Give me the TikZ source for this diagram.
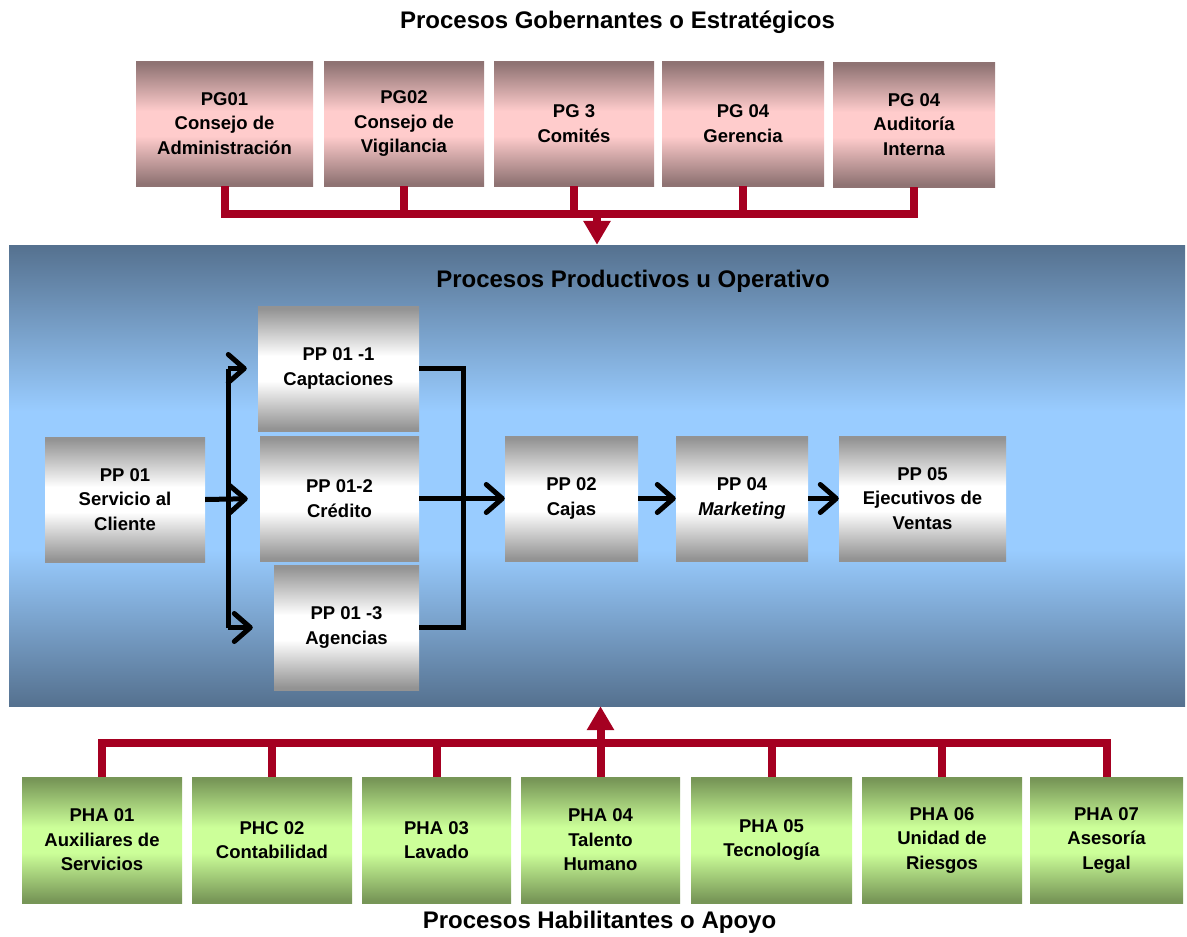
\documentclass[tikz,border=0pt]{standalone}
\usepackage{fontspec}
\setmainfont{Liberation Sans}
\usetikzlibrary{arrows.meta,calc}
\definecolor{pgdark}{HTML}{8F7373}
\definecolor{pglight}{HTML}{FFCCCC}
\definecolor{ppdark}{HTML}{939393}
\definecolor{pplight}{HTML}{FFFFFF}
\definecolor{phdark}{HTML}{779657}
\definecolor{phlight}{HTML}{CCFF99}
\definecolor{bgdark}{HTML}{55718F}
\definecolor{bglight}{HTML}{99CCFF}
\definecolor{busred}{HTML}{A50021}
\pgfdeclareverticalshading{pgshade}{100bp}{color(0bp)=(pgdark); color(26bp)=(pgdark); color(45bp)=(pglight); color(55bp)=(pglight); color(74bp)=(pgdark); color(100bp)=(pgdark)}
\pgfdeclareverticalshading{ppshade}{100bp}{color(0bp)=(ppdark); color(26bp)=(ppdark); color(45bp)=(pplight); color(55bp)=(pplight); color(74bp)=(ppdark); color(100bp)=(ppdark)}
\pgfdeclareverticalshading{phshade}{100bp}{color(0bp)=(phdark); color(26bp)=(phdark); color(45bp)=(phlight); color(55bp)=(phlight); color(74bp)=(phdark); color(100bp)=(phdark)}
\pgfdeclareverticalshading{bgshade}{100bp}{color(0bp)=(bgdark); color(25bp)=(bgdark); color(42bp)=(bglight); color(57bp)=(bglight); color(75bp)=(bgdark); color(100bp)=(bgdark)}
\newcommand{\boxfont}{\bfseries\fontsize{18.5}{24.5}\selectfont}
\newcommand{\titlefont}{\bfseries\fontsize{24}{28}\selectfont}
\tikzset{
  procbox/.style={rectangle,inner sep=0pt,align=center,font=\boxfont,minimum height=125pt},
  gov/.style={procbox,shading=pgshade},
  prodbox/.style={procbox,shading=ppshade},
  supp/.style={procbox,shading=phshade,minimum height=126pt},
  groupttl/.style={font=\titlefont},
  bus/.style={busred,line width=8pt},
  busarrow/.style={bus,-{Triangle[length=24pt,width=26pt]}},
  flow/.style={black,line width=5pt},
  flowarrow/.style={flow,-{Straight Barb[length=16pt,width=28pt,round]}},
}
\begin{document}
\begin{tikzpicture}[x=1pt,y=-1pt]
  \useasboundingbox (0,0) rectangle (1187,937);
  % ---- operative background ----
  \node[shading=bgshade,minimum width=1176pt,minimum height=461pt,inner sep=0pt] (prod) at (597,475.5) {};
  % ---- titles ----
  \node[groupttl] (tGov) at (617.5,22) {Procesos Gobernantes o Estratégicos};
  \node[groupttl] (tProd) at (633,281) {Procesos Productivos u Operativo};
  \node[groupttl] (tSupp) at (599.5,922) {Procesos Habilitantes o Apoyo};
  % ---- governing processes ----
  \node[gov,minimum width=177pt] (pg1) at (224.5,123.5) {PG01\\Consejo de\\Administración};
  \node[gov,minimum width=160pt] (pg2) at (404,123.5) {PG02\\Consejo de\\Vigilancia};
  \node[gov,minimum width=160pt] (pg3) at (574,123.5) {PG 3\\Comités};
  \node[gov,minimum width=162pt] (pg4) at (743,123.5) {PG 04\\Gerencia};
  \node[gov,minimum width=162pt] (pg5) at (914,124.5) {PG 04\\Auditoría\\Interna};
  % ---- operative processes ----
  \node[prodbox,minimum width=160pt] (pp1) at (125,499.5) {PP 01\\Servicio al\\Cliente};
  \node[prodbox,minimum width=161pt] (pp11) at (338.5,368.5) {PP 01 -1\\Captaciones};
  \node[prodbox,minimum width=159pt] (pp12) at (339.5,498.5) {PP 01-2\\Crédito};
  \node[prodbox,minimum width=145pt] (pp13) at (346.5,627.5) {PP 01 -3\\Agencias};
  \node[prodbox,minimum width=133pt] (pp2) at (571.5,498.5) {PP 02\\Cajas};
  \node[prodbox,minimum width=132pt] (pp4) at (742,498.5) {PP 04\\\textit{Marketing}};
  \node[prodbox,minimum width=167pt] (pp5) at (922.5,498.5) {PP 05\\Ejecutivos de\\Ventas};
  % ---- support processes ----
  \node[supp,minimum width=160pt] (pha1) at (102,840) {PHA 01\\Auxiliares de\\Servicios};
  \node[supp,minimum width=160pt] (phc2) at (272,840) {PHC 02\\Contabilidad};
  \node[supp,minimum width=149pt] (pha3) at (436.5,840) {PHA 03\\Lavado};
  \node[supp,minimum width=159pt] (pha4) at (600.5,840) {PHA 04\\Talento\\Humano};
  \node[supp,minimum width=161pt] (pha5) at (771.5,840) {PHA 05\\Tecnología};
  \node[supp,minimum width=160pt] (pha6) at (942,840) {PHA 06\\Unidad de\\Riesgos};
  \node[supp,minimum width=153pt] (pha7) at (1106.5,840) {PHA 07\\Asesoría\\Legal};
  % ---- red buses ----
  \coordinate (topbus) at (597,214);
  \coordinate (botbus) at (597,743);
  \draw[bus] (pg1.south) |- (pg5.south |- topbus) -- (pg5.south);
  \foreach \n in {pg2,pg3,pg4}
    \draw[bus] (\n.south) -- (\n.south |- topbus);
  \draw[busarrow] (topbus) -- (prod.north);
  \draw[bus] (pha1.north) |- (pha7.north |- botbus) -- (pha7.north);
  \foreach \n in {phc2,pha3,pha5,pha6}
    \draw[bus] (\n.north) -- (\n.north |- botbus);
  \draw[busarrow] (pha4.north) -- (pha4.north |- prod.south);
  % ---- flow arrows ----
  \coordinate (split) at (228,499.5);
  \coordinate (merge) at (463,498.5);
  \draw[flow] (split |- pp11.west) -- (split |- pp13.west);
  \draw[flowarrow,shorten >=11pt] (split |- pp11.west) -- (pp11.west);
  \draw[flowarrow,shorten >=12pt] (pp1.east) -- (pp12.west);
  \draw[flowarrow,shorten >=21pt] (split |- pp13.west) -- (pp13.west);
  \draw[flow] (pp11.east) -| (merge |- pp13.east) -- (pp13.east);
  \draw[flowarrow] (pp12.east) -- (pp2.west);
  \draw[flowarrow] (pp2.east) -- (pp4.west);
  \draw[flowarrow] (pp4.east) -- (pp5.west);
\end{tikzpicture}
\end{document}
